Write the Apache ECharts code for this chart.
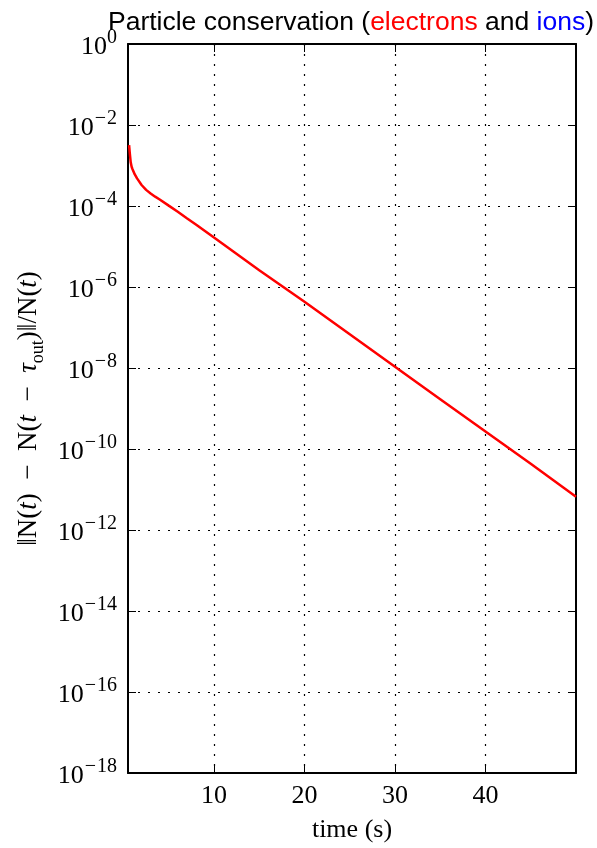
<!DOCTYPE html>
<html>
<head>
<meta charset="utf-8">
<script src="https://cdn.jsdelivr.net/npm/echarts@6/dist/echarts.min.js"></script>
<style>
  html, body { margin: 0; padding: 0; background: #fff; }
  #chart { width: 597px; height: 848px; }
</style>
</head>
<body>
<div id="chart"></div>
<script>
  // time samples (s) and relative particle loss
  var times = [0.62, 0.7, 0.8, 0.9, 1.0, 1.25, 1.5, 2, 2.5, 3, 3.5, 4, 5, 6, 7, 8, 10, 15, 20, 25, 30, 35, 40, 45, 50];
  var electrons = [3.2e-3, 2.0e-3, 1.2e-3, 9.3e-4, 8.1e-4, 6.0e-4, 4.8e-4, 3.3e-4, 2.5e-4, 2.04e-4, 1.7e-4, 1.45e-4,
    1.02e-4, 7.2e-5, 5.0e-5, 3.5e-5, 1.66e-5, 2.6e-6, 4.3e-7, 6.8e-8, 1.07e-8, 1.7e-9, 2.7e-10, 4.3e-11, 6.6e-12];
  var xTicks = [10, 20, 30, 40];

  var serif = '"Liberation Serif", "DejaVu Serif", serif';
  var sans = '"Liberation Sans", Arial, sans-serif';
  var lineData = times.map(function (t, i) { return [t, electrons[i]]; });

  var chart = echarts.init(document.getElementById('chart'));

  // 10^n labels for the log axis
  function expLabel(v) {
    var e = Math.round(Math.log10(v));
    if (e < 0) return '{b|10}{m|\u2212}{s|' + (-e) + '}';
    return '{b|10}{s|' + e + '}';
  }

  var frame = { show: true, onZero: false, lineStyle: { color: '#000', width: 2 } };
  var tick = { show: true, inside: true, length: 8, lineStyle: { color: '#000', width: 1 } };
  var grid = { show: true, lineStyle: { color: '#000', type: [2, 8], width: 1.2 } };

  chart.setOption({
    animation: false,
    title: {
      text: 'Particle conservation ({r|electrons} and {bl|ions})',
      left: 346, textAlign: 'center', top: 4,
      textStyle: {
        fontFamily: sans, fontSize: 26.5, fontWeight: 'normal', color: '#000',
        rich: {
          r: { color: '#ff0000', fontSize: 26.5, fontFamily: sans },
          bl: { color: '#0000ff', fontSize: 26.5, fontFamily: sans }
        }
      }
    },
    grid: { left: 128, right: 21, top: 44, bottom: 73, containLabel: false },
    xAxis: [{
      type: 'value', min: 0.5, max: 50,
      name: 'time (s)', nameLocation: 'middle', nameGap: 44,
      nameTextStyle: { fontFamily: serif, fontSize: 26, color: '#000' },
      axisLine: frame,
      axisTick: Object.assign({ customValues: xTicks }, tick),
      axisLabel: { customValues: xTicks, fontFamily: serif, fontSize: 26, color: '#000', margin: 10 },
      splitLine: grid
    }, {
      type: 'value', min: 0.5, max: 50, position: 'top',
      axisLine: frame,
      axisTick: Object.assign({ customValues: xTicks }, tick),
      axisLabel: { show: false },
      splitLine: { show: false }
    }],
    yAxis: [{
      type: 'log', logBase: 10, min: 1e-18, max: 1, interval: 2,
      name: '\u2016N({i|t})\u2002\u2212\u2002N({i|t}\u2002\u2212\u2002{i|\u03c4}{sub|out})\u2016/N({i|t})',
      nameLocation: 'middle', nameGap: 81, nameRotate: 90,
      nameTextStyle: {
        fontFamily: serif, fontSize: 27, color: '#000',
        rich: {
          i: { fontFamily: serif, fontSize: 27, fontStyle: 'italic', color: '#000' },
          sub: { fontFamily: serif, fontSize: 18, color: '#000', verticalAlign: 'bottom', lineHeight: 35 }
        }
      },
      axisLine: frame,
      axisTick: tick,
      minorTick: { show: false },
      axisLabel: {
        formatter: expLabel, margin: 11, color: '#000',
        rich: {
          b: { fontFamily: serif, fontSize: 26, color: '#000', verticalAlign: 'bottom', lineHeight: 32 },
          m: { fontFamily: serif, fontSize: 20, color: '#000', verticalAlign: 'top', lineHeight: 32, padding: [0, 1, 0, 1] },
          s: { fontFamily: serif, fontSize: 20, color: '#000', verticalAlign: 'top', lineHeight: 32 }
        }
      },
      splitLine: grid
    }, {
      type: 'log', logBase: 10, min: 1e-18, max: 1, interval: 2, position: 'right',
      axisLine: frame,
      axisTick: tick,
      axisLabel: { show: false },
      splitLine: { show: false }
    }],
    series: [{
      type: 'line',
      name: 'electrons',
      data: lineData,
      showSymbol: false,
      smooth: false,
      lineStyle: { color: '#ff0000', width: 2.5 },
      clip: true
    }]
  });
</script>
</body>
</html>
